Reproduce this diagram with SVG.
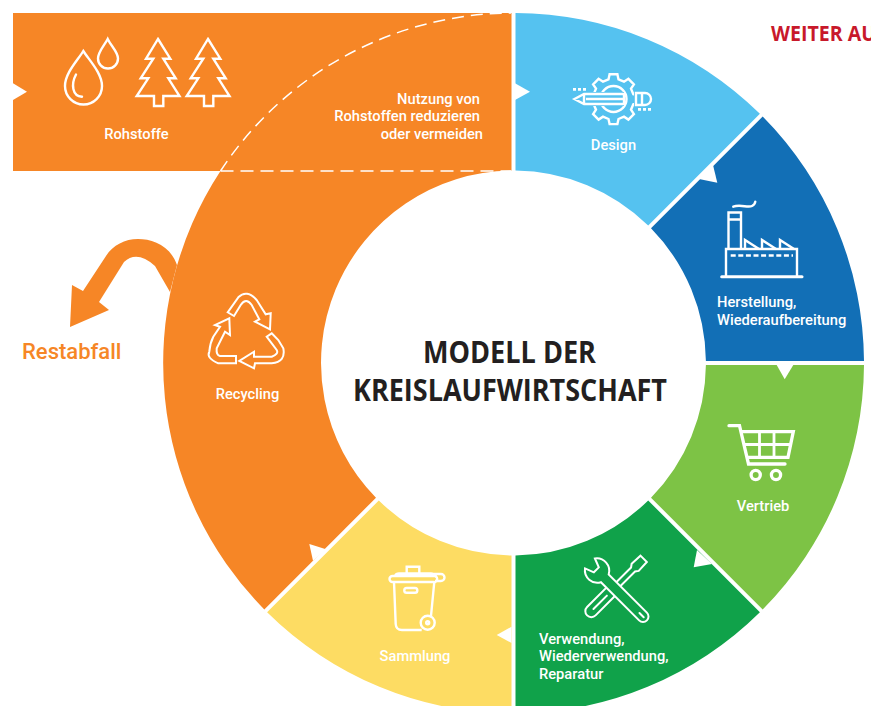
<svg xmlns="http://www.w3.org/2000/svg" width="871" height="706" viewBox="0 0 871 706">
<style>
text{font-family:Roboto,"Liberation Sans",Arial,sans-serif;font-weight:500;font-size:14.7px;fill:#fff}
.m{text-anchor:middle}
.ic{fill:none;stroke:#fff;stroke-width:2.4;stroke-linejoin:miter;stroke-linecap:butt}
.title{font-family:"Open Sans","Noto Sans",sans-serif;font-weight:700;font-size:31px;fill:#231f20}
.notch{fill:#fff}
</style>
<rect width="871" height="706" fill="#fff"/>
<g id="recycling">
<path fill="#f68626" d="M13 13H511.5V170.5A192.5 192.5 0 0 0 376 497.7L264.3 609.4A350.5 350.5 0 0 1 220.5 171H13Z"/>
<g class="ic" style="stroke-width:2">
<path d="M227.7 312.3L238.3 297.3Q246.7 289 256.7 300L265.7 314.3L270.7 313.3L270 329.3L255 321.7L259.3 319.3L251.7 305Q246 297 240.7 305L234 316Z"/>
<path d="M271.7 333.3L278.3 340L283.3 348.3Q286 362 271.7 363.3H255L254 368.3L239.3 361L254 351.7V356.7H271.7Q279 354 276.7 350L266.7 336.7Z"/>
<path d="M236 356V363.3H218.3Q206 358 209.3 351.7Q210 343 213.3 336.7L220 326.7L215 325L229.3 318.3L230 335L225 331.7L216.7 348.3Q216 355 220 356Z"/>
</g>
<text class="m" x="247.5" y="399">Recycling</text>
</g>
<g id="rohstoffe">
<g class="ic">
<path d="M83.3 51C78 60 65 73 65 86A18.5 18.5 0 0 0 102 86C102 73 89 60 83.3 51Z"/>
<path d="M76 74.5C71 84 72 96 82 96.7" stroke-linecap="round"/>
<path d="M107.7 39C104 46 98 52 98 58.5A10 10 0 0 0 118 58.5C118 52 111 46 107.7 39Z"/>
<path d="M158 39L170.3 58.7H163.3L175.7 78.3H168.3L179.5 96H163.3V106H154V96H136.7L148.3 78.3H140.7L153.3 58.7H146Z"/>
<path d="M208 39L220.3 58.7H213.3L225.7 78.3H218.3L229.5 96H213.3V106H204V96H186.7L198.3 78.3H190.7L203.3 58.7H196Z"/>
</g>
<text class="m" x="136.5" y="139">Rohstoffe</text>
<text x="480" y="104" text-anchor="end">Nutzung von</text>
<text x="480" y="121" text-anchor="end">Rohstoffen reduzieren</text>
<text x="483" y="139" text-anchor="end">oder vermeiden</text>
</g>
<g id="design">
<path fill="#55c2f0" d="M515.5 13A350.5 350.5 0 0 1 759.9 113.8L648.2 225.5A192.5 192.5 0 0 0 515.5 170.5Z"/>
<path class="ic" d="M609.6 74.3H617.4L618.5 79.4L624 81.7L628.4 78.8L633.9 84.3L631 88.7L633.3 94.2L638.4 95.3V103.1L633.3 104.2L631 109.7L633.9 114.1L628.4 119.6L624 116.7L618.5 119L617.4 124.1H609.6L608.5 119L603 116.7L598.6 119.6L593.1 114.1L596 109.7L593.7 104.2L588.6 103.1V95.3L593.7 94.2L596 88.7L593.1 84.3L598.6 78.8L603 81.7L608.5 79.4Z"/>
<circle class="ic" cx="613.5" cy="99" r="13"/>
<path fill="#55c2f0" d="M574.5 99L584 92H624V106H584Z"/>
<path class="ic" d="M574.5 99L584 94H624V104H584ZM584 94V104M586 99H624"/>
<path fill="#55c2f0" d="M634 91H646A6.5 6.5 0 0 1 653 99A6.5 6.5 0 0 1 646 107H634Z"/>
<path class="ic" d="M636 93H645A6 6 0 0 1 645 105H636ZM642 93V105"/>
<path class="ic" d="M573 89.3H586M638 109.3H651" stroke-dasharray="3 2" style="stroke-width:2.8"/>
<text class="m" x="613.5" y="150">Design</text>
</g>
<g id="herstellung">
<path fill="#126fb6" d="M762.7 116.6A350.5 350.5 0 0 1 864 361H705.9A192.5 192.5 0 0 0 651 228.3Z"/>
<g class="ic">
<path d="M721.7 276.7H802" style="stroke-width:3" stroke-linecap="round"/>
<path d="M726 276.7V249H797V276.7"/>
<path d="M728.5 249V212.5H741V249M728.5 219.5H741"/>
<path d="M745 249V240L759 249M762 249V240L776 249M780 249V240L794 249"/>
<path d="M730.7 255.5H793" stroke-dasharray="5 2.6" style="stroke-width:2.6"/>
<path d="M733.3 206.7C740 204 748 208 752 206Q755 204.5 755.3 201.7" stroke-linecap="round"/>
</g>
<text x="717" y="307">Herstellung,</text>
<text x="717" y="325">Wiederaufbereitung</text>
</g>
<g id="vertrieb">
<path fill="#7dc345" d="M864 365A350.5 350.5 0 0 1 762.7 609.4L651 497.7A192.5 192.5 0 0 0 705.9 365Z"/>
<g class="ic" style="stroke-width:3.3">
<path d="M729 425.7H739.5L748.5 464H785" stroke-linecap="round"/>
<path d="M741.7 431.7H793.3L788 457.3H747.5"/>
<path d="M744 444.5H790.5M759.5 431.7V457.3M774 431.7V457.3" style="stroke-width:2.8"/>
<circle cx="755.7" cy="475" r="4.6"/>
<circle cx="776" cy="475" r="4.6"/>
</g>
<text class="m" x="763" y="511">Vertrieb</text>
</g>
<g id="verwendung">
<path fill="#10a24a" d="M759.9 612.2A350.5 350.5 0 0 1 515.5 713.5V555.5A192.5 192.5 0 0 0 648.2 500.5Z"/>
<g class="ic" style="stroke-width:2">
<g transform="translate(588.5 614) rotate(-45)">
<path d="M4 -6H31L36 -2.8H63L66 -5L78 -4.5V4.5L66 5L63 2.8H36L31 6H4A6 6 0 0 1 4 -6Z"/>
<path d="M7 0H26" stroke-linecap="round"/>
</g>
<g transform="translate(643 616.5) rotate(-135)">
<path fill="#10a24a" d="M0 5.5A5.5 5.5 0 0 1 0 -5.5H54A12.5 12.5 0 0 1 75 -7L66 -3.5V3.5L75 7A12.5 12.5 0 0 1 54 5.5Z"/>
<path d="M5 0H-1" stroke-linecap="round"/>
</g>
</g>
<text x="539" y="644">Verwendung,</text>
<text x="539" y="661">Wiederverwendung,</text>
<text x="539" y="679">Reparatur</text>
</g>
<g id="sammlung">
<path fill="#fddc63" d="M511.5 555.5A192.5 192.5 0 0 1 378.8 500.5L267.1 612.2A350.5 350.5 0 0 0 511.5 713.5Z"/>
<g class="ic">
<path d="M406.7 573V566.7H419.3V573"/>
<path d="M392.5 582H433A3 3 0 0 0 435 576V574H441A3 3 0 0 1 441 581H435M392.5 582A3 3 0 0 1 392.5 576H395Q396 573.5 399 573.5H431Q434 573.5 435 576H395"/>
<path d="M394 582L395.7 624Q396 630 402 630H421.7M434.3 582L431 616"/>
<rect x="404.3" y="588" width="13" height="4.7" rx="2.3"/>
<circle cx="427.7" cy="622.7" r="7"/>
<circle cx="427.7" cy="622.7" r="1.5"/>
</g>
<text class="m" x="415" y="661">Sammlung</text>
</g>
<g id="title">
<text class="title" x="423" y="363" textLength="173" lengthAdjust="spacingAndGlyphs">MODELL DER</text>
<text class="title" x="353" y="401" textLength="314" lengthAdjust="spacingAndGlyphs">KREISLAUFWIRTSCHAFT</text>
</g>
<g id="connectors">
<polygon class="notch" points="13,83.3 27,91.7 13,100"/>
<polygon class="notch" points="515,83.3 530,91.7 515,100"/>
<polygon class="notch" points="699,179 713,165 717.3,182.7"/>
<polygon class="notch" points="776.7,365 793.3,365 784.7,379.3"/>
<polygon class="notch" points="697,550 712,564 693.7,567.3"/>
<polygon class="notch" points="511.5,626.7 511.5,643 496.7,635"/>
<polygon class="notch" points="326,549.3 313,560.7 309.3,544"/>
<path fill="none" stroke="#fff" stroke-width="1.5" stroke-dasharray="12 7" d="M220.5 171A350.5 350.5 0 0 1 511 13"/>
<path fill="none" stroke="#fff" stroke-width="1.5" stroke-dasharray="13 7" d="M220.5 171H511"/>
<path fill="#f68626" d="M177 265C170 245 152 239 138 239C125 239 113 245 106 256L83 291L72 285L70 327L109 310L99 302L124 262Q137 250 155 266L170 292Z"/>
</g>
<g id="labels">
<text x="22" y="359" style="font-size:22px;fill:#f68626">Restabfall</text>
<text x="771" y="41" style="font-family:'Open Sans','Noto Sans',sans-serif;font-weight:700;font-size:22px;fill:#c8192b" textLength="105" lengthAdjust="spacingAndGlyphs">WEITER AU</text>
</g>
</svg>
